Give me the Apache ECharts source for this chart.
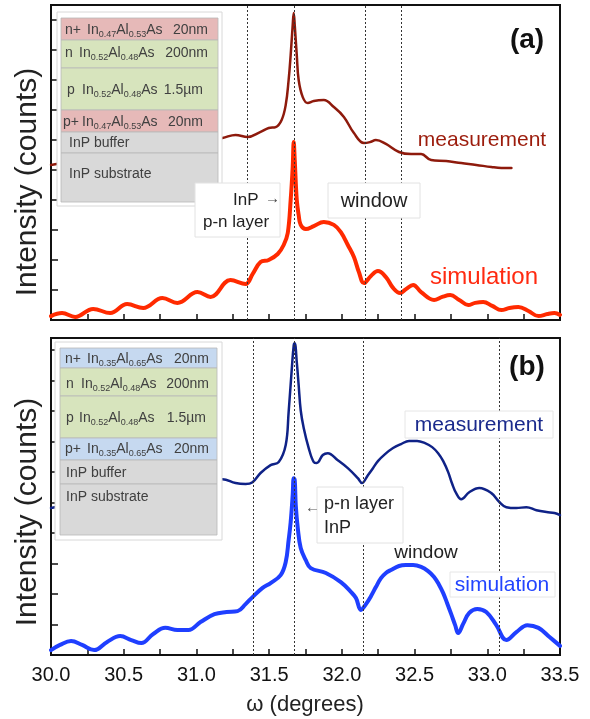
<!DOCTYPE html>
<html>
<head>
<meta charset="UTF-8">
<title>XRD rocking curves</title>
<script src="https://cdn.jsdelivr.net/npm/echarts@6/dist/echarts.min.js"></script>
<style>
  html, body { margin: 0; padding: 0; background: #fff; }
  #chart { width: 590px; height: 719px; }
</style>
</head>
<body>
<div id="chart"></div>
<script>
// panel (a): InAlAs 0.47/0.53 cladding
const omegaMeasA = [30.000,30.200,30.407,30.614,30.821,31.028,31.179,31.269,31.352,31.441,31.497,31.545,31.586,31.614,31.634,31.648,31.662,31.669,31.676,31.690,31.703,31.731,31.766,31.807,31.876,31.945,32.014,32.083,32.152,32.193,32.234,32.303,32.393,32.476,32.545,32.614,32.717,32.821,32.924,33.028,33.097,33.166];
const countsMeasA = [5.17,5.33,5.53,5.70,5.83,5.97,6.07,6.17,6.10,6.27,6.40,6.43,6.67,7.17,8.00,8.83,9.83,10.23,9.83,8.83,8.00,7.43,7.23,7.30,7.33,7.10,6.77,6.23,5.90,5.93,6.00,5.87,5.60,5.53,5.53,5.33,5.30,5.23,5.17,5.10,5.07,5.07];
const omegaSimA = [30.000,30.076,30.166,30.290,30.407,30.524,30.634,30.766,30.869,31.007,31.097,31.234,31.338,31.386,31.441,31.497,31.559,31.600,31.628,31.648,31.662,31.669,31.676,31.690,31.703,31.717,31.752,31.807,31.876,31.945,31.993,32.041,32.083,32.117,32.152,32.200,32.248,32.303,32.352,32.400,32.441,32.490,32.545,32.634,32.690,32.745,32.807,32.869,32.917,32.972,33.034,33.097,33.152,33.214,33.283,33.352,33.414,33.462,33.500];
const countsSimA = [0.13,0.23,0.10,0.37,0.23,0.53,0.40,0.73,0.57,0.93,0.77,1.33,1.20,1.53,1.93,2.00,2.20,2.50,2.90,4.00,5.10,5.93,5.33,4.00,3.50,3.17,3.03,3.13,3.27,3.17,2.93,2.50,2.10,1.60,1.23,1.47,1.63,1.43,1.07,0.90,1.03,1.17,0.93,0.67,0.77,0.83,0.67,0.50,0.57,0.60,0.47,0.33,0.40,0.43,0.30,0.13,0.20,0.23,0.17];
const markersA = [31.35, 31.67, 32.16, 32.41];

// panel (b): InAlAs 0.35/0.65 cladding
const omegaMeasB = [30.000,30.269,30.545,30.821,31.028,31.179,31.269,31.338,31.386,31.441,31.510,31.566,31.614,31.634,31.655,31.669,31.676,31.690,31.703,31.717,31.738,31.772,31.807,31.828,31.869,31.903,31.972,32.041,32.110,32.138,32.179,32.214,32.248,32.297,32.352,32.407,32.462,32.517,32.572,32.621,32.662,32.697,32.731,32.759,32.786,32.821,32.876,32.945,33.028,33.083,33.131,33.200,33.269,33.338,33.407,33.462,33.500];
const countsMeasB = [4.82,5.08,5.34,5.54,5.67,5.77,5.64,5.61,5.67,5.97,6.23,6.33,6.89,7.97,9.34,10.16,10.23,9.61,8.85,8.03,7.44,6.79,6.33,6.30,6.56,6.62,6.39,6.13,5.80,5.64,5.90,6.13,6.36,6.59,6.79,6.92,7.02,7.02,6.95,6.82,6.62,6.36,6.00,5.61,5.31,5.11,5.34,5.48,5.31,5.02,4.85,4.82,4.85,4.75,4.69,4.66,4.59];
const omegaSimB = [30.000,30.062,30.138,30.214,30.297,30.386,30.476,30.552,30.621,30.703,30.786,30.869,30.945,31.028,31.124,31.207,31.283,31.338,31.386,31.455,31.510,31.579,31.614,31.634,31.648,31.662,31.669,31.676,31.683,31.697,31.717,31.752,31.786,31.890,31.993,32.062,32.097,32.131,32.166,32.200,32.234,32.269,32.303,32.338,32.393,32.441,32.490,32.545,32.593,32.634,32.669,32.697,32.724,32.752,32.779,32.800,32.834,32.876,32.931,32.993,33.062,33.131,33.200,33.276,33.352,33.428,33.500];
const countsSimB = [0.16,0.33,0.46,0.33,0.16,0.43,0.62,0.49,0.39,0.69,0.89,0.82,0.82,1.08,1.34,1.41,1.44,1.67,1.90,2.20,2.36,2.62,3.05,3.77,4.36,5.25,5.80,5.74,4.92,4.16,3.51,3.11,2.85,2.69,2.39,2.07,1.87,1.48,1.67,1.93,2.23,2.52,2.69,2.79,2.92,2.95,2.95,2.89,2.75,2.56,2.30,2.03,1.70,1.34,0.98,0.72,1.02,1.38,1.51,1.41,0.98,0.49,0.75,0.98,0.89,0.59,0.30];
const markersB = [31.39, 31.67, 32.15, 33.08];

const xTicks = ['30.0','30.5','31.0','31.5','32.0','32.5','33.0','33.5'];

const FONT = "'Liberation Sans', Arial, sans-serif";

function zip(xs, ys) { return xs.map((x, i) => [x, ys[i]]); }

function xAxisFor(idx, showLabels) {
  return {
    type: 'value', gridIndex: idx, min: 30, max: 33.5, interval: 0.5,
    axisLine: { show: true, lineStyle: { color: '#111', width: 2 } },
    axisTick: { inside: true, length: 6, lineStyle: { color: '#111', width: 1.5 } },
    minorTick: { show: true, splitNumber: 2, length: 6, lineStyle: { color: '#111', width: 1.5 } },
    splitLine: { show: false },
    axisLabel: {
      show: showLabels, margin: 10, fontSize: 20, color: '#111', fontFamily: FONT,
      formatter: v => xTicks[Math.round((v - 30) / 0.5)]
    }
  };
}

function yAxisFor(idx, max) {
  return {
    type: 'value', gridIndex: idx, min: 0, max: max, interval: 1,
    axisLine: { show: true, lineStyle: { color: '#111', width: 2 } },
    axisTick: { inside: true, length: 7, lineStyle: { color: '#111', width: 1.5 } },
    splitLine: { show: false },
    axisLabel: { show: false }
  };
}

function markers(vals) {
  return {
    silent: true, symbol: 'none', label: { show: false },
    lineStyle: { type: [2, 2], color: '#333', width: 1 },
    data: vals.map(v => ({ xAxis: v }))
  };
}

function curve(xi, xs, ys, color, width, mark) {
  const s = {
    type: 'line', xAxisIndex: xi, yAxisIndex: xi, data: zip(xs, ys),
    smooth: 0.4, showSymbol: false,
    lineStyle: { color: color, width: width, join: 'round', cap: 'round' }
  };
  if (mark) s.markLine = markers(mark);
  return s;
}

// ---- graphic helpers (inset layer stacks and annotations)
const G = [];
function rect(x, y, w, h, fill, stroke, lw) {
  G.push({ type: 'rect', z: 100, shape: { x: x, y: y, width: w, height: h },
    style: { fill: fill, stroke: stroke || null, lineWidth: lw || 1 } });
}
function txt(x, y, text, o) {
  o = o || {};
  G.push({ type: 'text', z: 101, x: x, y: y, rotation: o.rot || 0,
    style: { text: text, fill: o.color || '#333', fontSize: o.size || 14,
      fontWeight: o.weight || 'normal', fontFamily: FONT,
      align: o.align || 'left', verticalAlign: 'middle' } });
}
const subRich = {
  s: { fontSize: 9, lineHeight: 9, verticalAlign: 'bottom', fill: '#404040', fontFamily: FONT }
};
function layerStack(x0, x1, frame, rows) {
  rect(frame[0], frame[1], frame[2], frame[3], '#fff', '#d8d8d8', 1);
  rows.forEach(r => {
    rect(x0, r.y0, x1 - x0, r.y1 - r.y0, r.fill, '#b8b8b8', 0.8);
    txt(r.tx, r.ty, r.lab, { color: '#404040', size: 14 });
    if (r.comp) {
      G.push({ type: 'text', z: 101, x: r.cx, y: r.ty - 9,
        style: { text: r.comp, fill: '#404040', fontSize: 14, lineHeight: 18, fontFamily: FONT,
          verticalAlign: 'top', rich: subRich } });
    }
    if (r.th) txt(r.thx, r.ty, r.th, { color: '#404040', size: 14, align: 'right' });
  });
}

const PINK = '#e6b9b8', GREEN = '#d7e4bd', GRAY = '#d9d9d9', BLUE = '#c6d9f0';

layerStack(61, 218, [57, 12, 165, 194], [
  { y0: 18, y1: 40, fill: PINK, tx: 65, ty: 30, lab: 'n+', cx: 87, comp: 'In{s|0.47}Al{s|0.53}As', th: '20nm', thx: 208 },
  { y0: 40, y1: 68, fill: GREEN, tx: 65, ty: 53, lab: 'n', cx: 79, comp: 'In{s|0.52}Al{s|0.48}As', th: '200nm', thx: 208 },
  { y0: 68, y1: 110, fill: GREEN, tx: 67, ty: 90, lab: 'p', cx: 82, comp: 'In{s|0.52}Al{s|0.48}As', th: '1.5µm', thx: 203 },
  { y0: 110, y1: 132, fill: PINK, tx: 63, ty: 122, lab: 'p+', cx: 82, comp: 'In{s|0.47}Al{s|0.53}As', th: '20nm', thx: 203 },
  { y0: 132, y1: 153, fill: GRAY, tx: 69, ty: 143, lab: 'InP buffer' },
  { y0: 153, y1: 202, fill: GRAY, tx: 69, ty: 174, lab: 'InP substrate' }
]);

layerStack(60, 217, [55, 342, 167, 198], [
  { y0: 348, y1: 368, fill: BLUE, tx: 65, ty: 359, lab: 'n+', cx: 87, comp: 'In{s|0.35}Al{s|0.65}As', th: '20nm', thx: 209 },
  { y0: 368, y1: 396, fill: GREEN, tx: 66, ty: 384, lab: 'n', cx: 81, comp: 'In{s|0.52}Al{s|0.48}As', th: '200nm', thx: 209 },
  { y0: 396, y1: 438, fill: GREEN, tx: 66, ty: 418, lab: 'p', cx: 79, comp: 'In{s|0.52}Al{s|0.48}As', th: '1.5µm', thx: 206 },
  { y0: 438, y1: 460, fill: BLUE, tx: 65, ty: 449, lab: 'p+', cx: 87, comp: 'In{s|0.35}Al{s|0.65}As', th: '20nm', thx: 209 },
  { y0: 460, y1: 484, fill: GRAY, tx: 66, ty: 473, lab: 'InP buffer' },
  { y0: 484, y1: 535, fill: GRAY, tx: 66, ty: 497, lab: 'InP substrate' }
]);

// annotations panel (a)
rect(195, 183, 85, 54, '#fff', '#e2e2e2', 1);
txt(233, 200, 'InP', { size: 17, color: '#222' });
txt(265, 199, '→', { size: 15, color: '#444' });
txt(203, 222, 'p-n layer', { size: 17, color: '#222' });
rect(328, 183, 92, 35, '#fff', '#e2e2e2', 1);
txt(374, 201, 'window', { size: 20, color: '#222', align: 'center' });
txt(482, 140, 'measurement', { size: 21, color: '#9c1c0c', align: 'center' });
txt(484, 277, 'simulation', { size: 24, color: '#ff2a10', align: 'center' });
txt(527, 40, '(a)', { size: 28, weight: 'bold', color: '#111', align: 'center' });

// annotations panel (b)
rect(317, 487, 86, 56, '#fff', '#e2e2e2', 1);
txt(305, 508, '←', { size: 15, color: '#555' });
txt(324, 504, 'p-n layer', { size: 18, color: '#222' });
txt(324, 528, 'InP', { size: 18, color: '#222' });
txt(426, 553, 'window', { size: 19, color: '#222', align: 'center' });
rect(405, 411, 148, 27, '#fff', '#e6e6e6', 1);
txt(479, 425, 'measurement', { size: 21, color: '#1a2a8c', align: 'center' });
rect(450, 572, 105, 25, '#fff', '#e6e6e6', 1);
txt(502, 585, 'simulation', { size: 21, color: '#2244ff', align: 'center' });
txt(527, 367, '(b)', { size: 28, weight: 'bold', color: '#111', align: 'center' });

// axis titles
txt(28, 182, 'Intensity (counts)', { size: 30, color: '#222', align: 'center', rot: Math.PI / 2 });
txt(28, 512, 'Intensity (counts)', { size: 30, color: '#222', align: 'center', rot: Math.PI / 2 });
txt(305, 705, 'ω (degrees)', { size: 22, color: '#222', align: 'center' });

const chart = echarts.init(document.getElementById('chart'));
chart.setOption({
  animation: false,
  backgroundColor: '#fff',
  grid: [
    { left: 51, right: 30, top: 5, height: 315, show: true, borderColor: '#111', borderWidth: 2, backgroundColor: 'transparent' },
    { left: 51, right: 30, top: 338, height: 317, show: true, borderColor: '#111', borderWidth: 2, backgroundColor: 'transparent' }
  ],
  xAxis: [xAxisFor(0, false), xAxisFor(1, true)],
  yAxis: [yAxisFor(0, 10.5), yAxisFor(1, 10.4)],
  series: [
    curve(0, omegaMeasA, countsMeasA, '#8e1a0c', 2.5, markersA),
    curve(0, omegaSimA, countsSimA, '#ff2a00', 4),
    curve(1, omegaMeasB, countsMeasB, '#0f2287', 2.5, markersB),
    curve(1, omegaSimB, countsSimB, '#1f3fff', 4)
  ],
  graphic: G
});
</script>
</body>
</html>
